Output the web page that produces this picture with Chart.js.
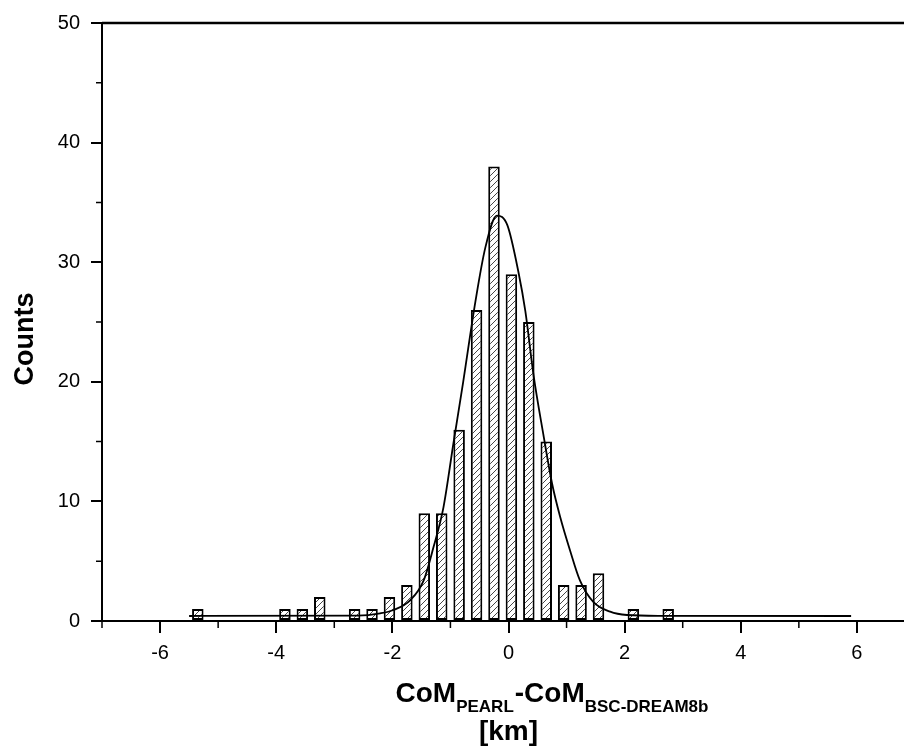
<!DOCTYPE html>
<html>
<head>
<meta charset="utf-8">
<title>CoM PEARL - CoM BSC-DREAM8b histogram</title>
<script src="https://cdn.jsdelivr.net/npm/chart.js@4.4.0/dist/chart.umd.min.js"></script>
<style>
  html, body { margin: 0; padding: 0; background: #fff; overflow: hidden; }
  #wrap { width: 920px; height: 754px; }
</style>
</head>
<body>
<div id="wrap"><canvas id="chart" width="920" height="754"></canvas></div>
<script>
// ------------------------------------------------------------
// Data
// ------------------------------------------------------------
// Histogram: bin centres (km) and counts per bin
const BIN_CENTERS = [-5.35, -3.85, -3.55, -3.25, -2.65, -2.35, -2.05, -1.75, -1.45, -1.15, -0.85,
                     -0.55, -0.25, 0.05, 0.35, 0.65, 0.95, 1.25, 1.55, 2.15, 2.75];
const BIN_COUNTS  = [1, 1, 1, 2, 1, 1, 2, 3, 9, 9, 16,
                     26, 38, 29, 25, 15, 3, 3, 4, 1, 1];

// Gaussian fit line
const FIT_X = [-5.5, -2.6, -2.21, -1.98, -1.69, -1.46, -1.29, -1.12, -0.95, -0.78, -0.57, -0.4, -0.2,
               -0.02, 0.17, 0.29, 0.43, 0.6, 0.75, 0.89, 1.06, 1.23, 1.46, 1.75, 2.04, 2.6, 5.9];
const FIT_Y = [0.42, 0.45, 0.64, 0.92, 1.75, 3.4, 6.2, 9.5, 14.8, 20.0, 26.7, 31.2, 33.9,
               33.1, 29.2, 25.9, 20.6, 15.6, 11.5, 8.7, 5.9, 3.4, 1.6, 0.78, 0.5, 0.43, 0.42];

// Axis ticks
const X_TICKS = [-6, -4, -2, 0, 2, 4, 6];
const X_MINOR = [-7, -5, -3, -1, 1, 3, 5, 7];
const Y_TICKS = [0, 10, 20, 30, 40, 50];
const Y_MINOR = [5, 15, 25, 35, 45];

const FONT = "'Liberation Sans', Arial, sans-serif";

// Diagonal "/" hatch used to fill the bars
function makeHatch() {
  const tile = document.createElement("canvas");
  tile.width = 6;
  tile.height = 6;
  const c = tile.getContext("2d");
  c.fillStyle = "#fff";
  c.fillRect(0, 0, 6, 6);
  c.strokeStyle = "#333";
  c.lineWidth = 0.9;
  c.beginPath();
  c.moveTo(-1, 7); c.lineTo(7, -1);
  c.moveTo(-1, 1); c.lineTo(1, -1);
  c.moveTo(5, 7); c.lineTo(7, 5);
  c.stroke();
  return c.createPattern(tile, "repeat");
}

// Top frame line, minor ticks and the two axis titles (with subscripts)
const decorations = {
  id: "decorations",
  afterDraw(chart) {
    const { ctx, chartArea, scales } = chart;
    ctx.save();
    ctx.strokeStyle = "#000";

    // top border
    ctx.lineWidth = 2.5;
    ctx.beginPath();
    ctx.moveTo(chartArea.left, chartArea.top);
    ctx.lineTo(chartArea.right + 10, chartArea.top);
    ctx.stroke();

    // minor ticks
    ctx.lineWidth = 1.5;
    ctx.beginPath();
    for (const v of X_MINOR) {
      const px = scales.x.getPixelForValue(v);
      ctx.moveTo(px, chartArea.bottom);
      ctx.lineTo(px, chartArea.bottom + 7);
    }
    for (const v of Y_MINOR) {
      const py = scales.y.getPixelForValue(v);
      ctx.moveTo(chartArea.left, py);
      ctx.lineTo(chartArea.left - 6, py);
    }
    ctx.stroke();

    ctx.fillStyle = "#000";

    // y title
    ctx.save();
    ctx.translate(33, (chartArea.top + chartArea.bottom) / 2 + 17);
    ctx.rotate(-Math.PI / 2);
    ctx.font = `bold 27px ${FONT}`;
    ctx.textAlign = "center";
    ctx.textBaseline = "alphabetic";
    ctx.fillText("Counts", 0, 0);
    ctx.restore();

    // x title, line 1 with subscripts
    const parts = [
      { text: "CoM", sub: false },
      { text: "PEARL", sub: true },
      { text: "-CoM", sub: false },
      { text: "BSC-DREAM8b", sub: true },
    ];
    const mid = (chartArea.left + chartArea.right) / 2;
    let x = mid - 113;
    const base = chartArea.bottom + 81;
    ctx.textAlign = "left";
    ctx.textBaseline = "alphabetic";
    for (const p of parts) {
      ctx.font = p.sub ? `bold 17px ${FONT}` : `bold 28px ${FONT}`;
      ctx.fillText(p.text, x, p.sub ? base + 10 : base);
      x += ctx.measureText(p.text).width + (p.sub ? 1 : 0);
    }

    // x title, line 2
    ctx.font = `bold 28px ${FONT}`;
    ctx.textAlign = "center";
    ctx.fillText("[km]", mid, chartArea.bottom + 119);

    ctx.restore();
  },
};

const hatch = makeHatch();

new Chart(document.getElementById("chart"), {
  type: "bar",
  data: {
    datasets: [
      {
        type: "line",
        data: FIT_X.map((x, i) => ({ x, y: FIT_Y[i] })),
        borderColor: "#000",
        borderWidth: 1.8,
        pointRadius: 0,
        cubicInterpolationMode: "monotone",
        order: 0,
      },
      {
        type: "bar",
        data: BIN_CENTERS.map((x, i) => ({ x, y: BIN_COUNTS[i] })),
        backgroundColor: hatch,
        borderColor: "#000",
        borderWidth: 2,
        borderSkipped: false,
        barPercentage: 0.66,
        categoryPercentage: 1,
        order: 1,
      },
    ],
  },
  options: {
    responsive: false,
    animation: false,
    layout: { padding: { top: 20, right: 5, left: 0, bottom: 0 } },
    plugins: { legend: { display: false }, tooltip: { enabled: false } },
    scales: {
      x: {
        type: "linear",
        min: -7,
        max: 7,
        offset: false,
        afterBuildTicks: (s) => { s.ticks = X_TICKS.map(v => ({ value: v })); },
        afterFit: (s) => { s.height = 133; },
        grid: { drawOnChartArea: false, offset: false, color: "#000", lineWidth: 2, tickLength: 12 },
        border: { color: "#000", width: 2 },
        ticks: { color: "#000", font: { family: FONT, size: 20 }, padding: 8, maxRotation: 0 },
      },
      y: {
        min: 0,
        max: 50,
        afterBuildTicks: (s) => { s.ticks = Y_TICKS.map(v => ({ value: v })); },
        afterFit: (s) => { s.width = 102; },
        grid: { drawOnChartArea: false, color: "#000", lineWidth: 2, tickLength: 11 },
        border: { color: "#000", width: 2 },
        ticks: { color: "#000", font: { family: FONT, size: 20 }, padding: 11 },
      },
    },
  },
  plugins: [decorations],
});
</script>
</body>
</html>
